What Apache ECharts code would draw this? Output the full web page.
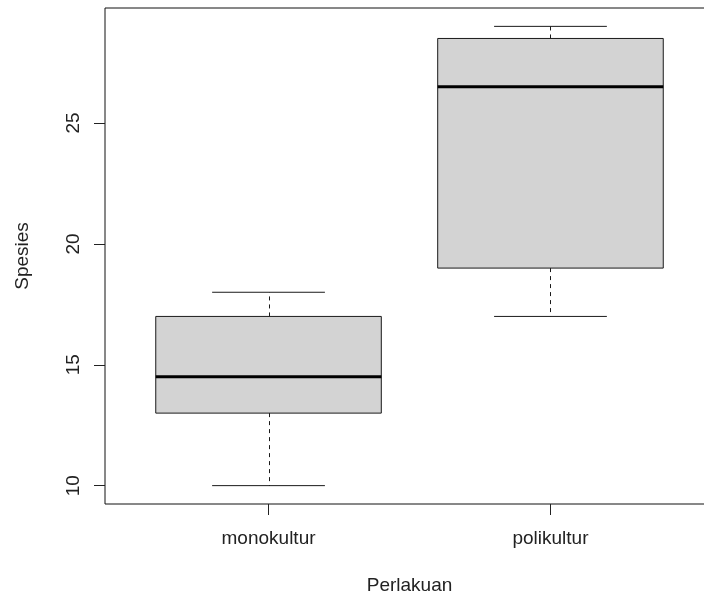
<!DOCTYPE html>
<html>
<head>
<meta charset="utf-8">
<script src="https://cdn.jsdelivr.net/npm/echarts@6/dist/echarts.min.js"></script>
<style>
  html, body { margin: 0; padding: 0; background: #fff; }
  #chart { width: 704px; height: 594px; }
</style>
</head>
<body>
<div id="chart"></div>
<script>
// Data
const categories = ['monokultur', 'polikultur'];
const whiskerLow = [10, 17];
const quartile1 = [13, 19];
const medians = [14.5, 26.5];
const quartile3 = [17, 28.5];
const whiskerHigh = [18, 29];
const yTicks = [10, 15, 20, 25];
const xTitle = 'Perlakuan';
const yTitle = 'Spesies';

const boxData = categories.map((c, i) => [i + 1, whiskerLow[i], quartile1[i], medians[i], quartile3[i], whiskerHigh[i]]);

const FONT = '"Liberation Sans", Arial, sans-serif';
const TXT = '#222';

function renderBox(params, api) {
  const x = api.value(0);
  const lo = api.value(1), q1 = api.value(2), md = api.value(3), q3 = api.value(4), hi = api.value(5);
  const c = (xx, yy) => api.coord([xx, yy]);
  const boxL = c(x - 0.4, q1)[0], boxR = c(x + 0.4, q1)[0];
  const capL = c(x - 0.2, lo)[0], capR = c(x + 0.2, lo)[0];
  const cx = Math.round(c(x, lo)[0]) + 0.5;
  const yLo = c(x, lo)[1], yQ1 = c(x, q1)[1], yMd = c(x, md)[1], yQ3 = c(x, q3)[1], yHi = c(x, hi)[1];
  const lineC = '#1a1a1a';
  return {
    type: 'group',
    children: [
      { type: 'line', shape: { x1: cx, y1: yQ1, x2: cx, y2: yLo }, style: { stroke: lineC, lineWidth: 1, lineDash: [4, 4] } },
      { type: 'line', shape: { x1: cx, y1: yQ3, x2: cx, y2: yHi }, style: { stroke: lineC, lineWidth: 1, lineDash: [4, 4] } },
      { type: 'line', shape: { x1: capL, y1: yLo, x2: capR, y2: yLo }, style: { stroke: lineC, lineWidth: 1 } },
      { type: 'line', shape: { x1: capL, y1: yHi, x2: capR, y2: yHi }, style: { stroke: lineC, lineWidth: 1 } },
      { type: 'rect', shape: { x: boxL, y: yQ3, width: boxR - boxL, height: yQ1 - yQ3 }, style: { fill: '#d3d3d3', stroke: lineC, lineWidth: 1 } },
      { type: 'line', shape: { x1: boxL, y1: yMd, x2: boxR, y2: yMd }, style: { stroke: '#000', lineWidth: 3 } }
    ]
  };
}

const chart = echarts.init(document.getElementById('chart'), null, { renderer: 'canvas' });
chart.setOption({
  animation: false,
  backgroundColor: '#fff',
  grid: {
    left: 105, right: -10, top: 8, bottom: 90,
    outerBoundsMode: 'none',
    containLabel: false,
    show: true, borderColor: '#111', borderWidth: 1, backgroundColor: 'transparent'
  },
  xAxis: {
    type: 'value', min: 0.42, max: 2.58,
    name: xTitle, nameLocation: 'middle', nameGap: 72,
    nameTextStyle: { fontFamily: FONT, fontSize: 19, color: TXT },
    axisLine: { show: false },
    splitLine: { show: false },
    axisTick: { show: true, length: 11, customValues: [1, 2], lineStyle: { color: '#222', width: 1 } },
    axisLabel: {
      customValues: [1, 2],
      formatter: v => categories[Math.round(v) - 1] || '',
      fontFamily: FONT, fontSize: 19, color: TXT, margin: 25
    }
  },
  yAxis: {
    type: 'value', min: 9.24, max: 29.76,
    name: yTitle, nameLocation: 'middle', nameGap: 73,
    nameTextStyle: { fontFamily: FONT, fontSize: 19, color: TXT },
    axisLine: { show: false },
    splitLine: { show: false },
    axisTick: { show: true, length: 11, customValues: yTicks, lineStyle: { color: '#222', width: 1 } },
    axisLabel: {
      customValues: yTicks, rotate: 90,
      fontFamily: FONT, fontSize: 19, color: TXT, margin: 22
    }
  },
  series: [{
    type: 'custom',
    renderItem: renderBox,
    encode: { x: 0, y: [1, 2, 3, 4, 5] },
    data: boxData,
    clip: false
  }]
});
</script>
</body>
</html>
